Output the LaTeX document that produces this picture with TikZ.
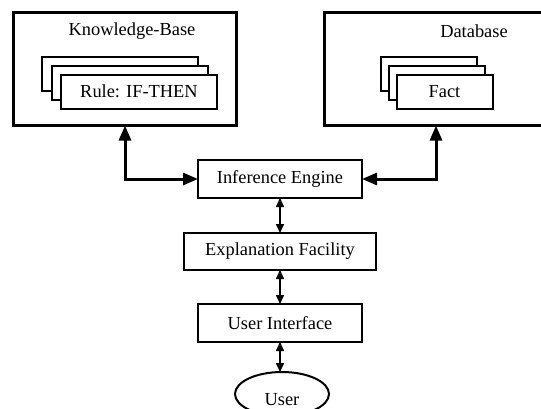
\documentclass[tikz,border=0pt]{standalone}
\usepackage{fontspec}
\setmainfont{Liberation Serif}
\usetikzlibrary{arrows.meta,shapes.geometric}

\tikzset{
    marco/.style={draw, line width=1.5pt, outer sep=0pt, inner sep=0pt},
    caja/.style={draw, fill=white, line width=1pt, outer sep=0pt, inner sep=0pt, minimum height=17pt},
    flechagrande/.style={line width=1.5pt, {Triangle[length=7.5pt,width=6pt]}-{Triangle[length=7.5pt,width=6pt]}},
    flecha/.style={line width=0.8pt, {Triangle[length=4.5pt,width=4pt]}-{Triangle[length=4.5pt,width=4pt]}}
}

\begin{document}
\begin{tikzpicture}[x=0.5pt, y=-0.5pt, font=\fontsize{9.2pt}{11pt}\selectfont]
    \clip (0,0) rectangle (541,408);
    \fill[white] (0,0) rectangle (541,408);

    % bases
    \node[marco, minimum width=111.5pt, minimum height=56.5pt] (kb) at (125,69) {};
    \node[marco, minimum width=111.5pt, minimum height=56.5pt] (db) at (436,69) {};
    \node (kbtit) at (132,31) {Knowledge-Base};
    \node (dbtit) at (474,31) {Database};

    % reglas
    \node[caja, minimum width=78pt] (r3) at (120,73.5) {};
    \node[caja, minimum width=78pt] (r2) at (130,82.5) {};
    \node[caja, minimum width=78pt] (r1) at (139,91.5) {Rule: IF-THEN};

    % hechos
    \node[caja, minimum width=48pt] (f3) at (428.5,73.5) {};
    \node[caja, minimum width=48pt] (f2) at (437,82.5) {};
    \node[caja, minimum width=48pt] (f1) at (444.5,91.5) {Fact};

    % cadena central
    \node[caja, minimum width=82pt, minimum height=19pt] (ie) at (280,179) {Inference Engine};
    \node[caja, minimum width=96pt, minimum height=18.5pt] (ef) at (280,251.5) {Explanation Facility};
    \node[caja, minimum width=82pt, minimum height=19pt] (ui) at (280,323) {User Interface};
    \node[draw, ellipse, line width=1pt, outer sep=0pt, inner sep=0pt, minimum width=47pt, minimum height=22pt, text height=1.2em] (user) at (282,394) {User};

    \draw[flechagrande] (kb.south) |- (ie.west);
    \draw[flechagrande] (db.south) |- (ie.east);
    \draw[flecha] (ie.south) -- (ef.north);
    \draw[flecha] (ef.south) -- (ui.north);
    \draw[flecha] (ui.south) -- (user.north -| ui.south);

\end{tikzpicture}
\end{document}
